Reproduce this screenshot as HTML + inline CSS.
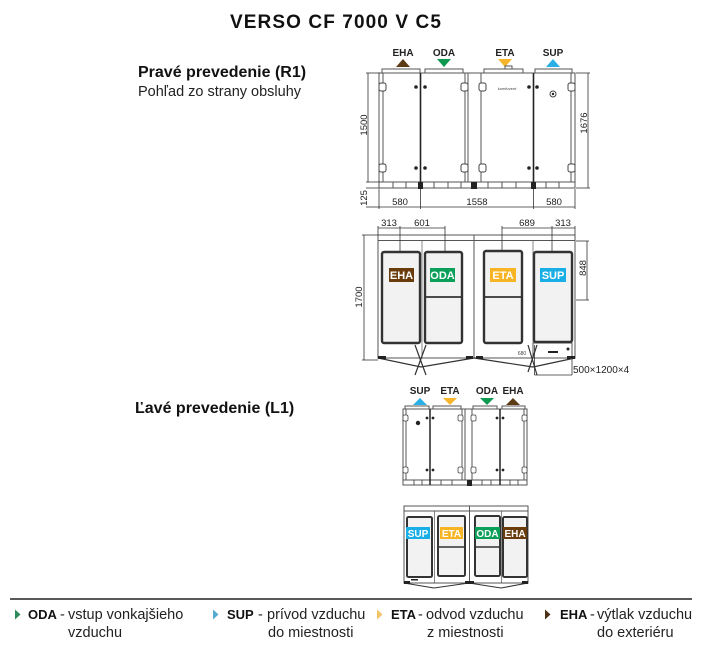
<!DOCTYPE html>
<html><head><meta charset="utf-8"><style>
html,body{margin:0;padding:0;background:#fff;}
svg{display:block;font-family:"Liberation Sans",Arial,sans-serif;}
</style></head><body>
<svg width="725" height="651" viewBox="0 0 725 651" xmlns="http://www.w3.org/2000/svg">
<rect width="725" height="651" fill="#fff"/>

<!-- Headings -->
<text x="230" y="28" font-size="19" font-weight="bold" letter-spacing="1.1" fill="#111">VERSO CF 7000 V C5</text>
<text x="138" y="77" font-size="16" font-weight="bold" fill="#111">Pravé prevedenie (R1)</text>
<text x="138" y="96" font-size="14.5" fill="#222">Pohľad zo strany obsluhy</text>
<text x="135" y="413" font-size="16" font-weight="bold" fill="#111">Ľavé prevedenie (L1)</text>

<!-- ============ TOP UNIT (R1 side view) ============ -->
<g font-size="10" font-weight="bold" fill="#222" text-anchor="middle">
  <text x="403" y="56">EHA</text>
  <text x="444" y="56">ODA</text>
  <text x="505" y="56">ETA</text>
  <text x="553" y="56">SUP</text>
</g>
<polygon points="396,67 410,67 403,59" fill="#5b3a14"/>
<polygon points="437,59 451,59 444,67" fill="#0d9a50"/>
<polygon points="498,59 512,59 505,67" fill="#f6b52a"/>
<polygon points="546,67 560,67 553,59" fill="#2aaee6"/>

<g stroke="#555" stroke-width="1" fill="#fff">
  <rect x="382" y="69" width="38" height="4"/>
  <rect x="425" y="69" width="38" height="4"/>
  <rect x="484" y="69" width="39" height="4"/>
  <rect x="505" y="66" width="7" height="3"/>
  <rect x="535" y="69" width="37" height="4"/>
  <rect x="379" y="73" width="196" height="109"/>
  <rect x="379" y="182" width="196" height="6"/>
</g>
<g stroke="#555" stroke-width="1">
  <line x1="383" y1="73" x2="383" y2="182"/>
  <line x1="571" y1="73" x2="571" y2="182"/>
  <line x1="465" y1="73" x2="465" y2="182"/>
  <line x1="468" y1="73" x2="468" y2="182"/>
  <line x1="481" y1="73" x2="481" y2="182"/>
  <line x1="393" y1="182" x2="393" y2="188"/>
  <line x1="406" y1="182" x2="406" y2="188"/>
  <line x1="434" y1="182" x2="434" y2="188"/>
  <line x1="448" y1="182" x2="448" y2="188"/>
  <line x1="461" y1="182" x2="461" y2="188"/>
  <line x1="488" y1="182" x2="488" y2="188"/>
  <line x1="502" y1="182" x2="502" y2="188"/>
  <line x1="516" y1="182" x2="516" y2="188"/>
  <line x1="546" y1="182" x2="546" y2="188"/>
  <line x1="559" y1="182" x2="559" y2="188"/>
</g>
<g stroke="#222" stroke-width="1.6">
  <line x1="420.5" y1="73" x2="420.5" y2="188"/>
  <line x1="533.5" y1="73" x2="533.5" y2="188"/>
</g>
<g fill="#222">
  <rect x="418" y="182" width="5" height="7"/>
  <rect x="471" y="182" width="6" height="7"/>
  <rect x="531" y="182" width="5" height="7"/>
</g>
<!-- hinges -->
<g stroke="#444" stroke-width="1" fill="#fff">
  <rect x="379" y="83" width="7" height="8" rx="2"/>
  <rect x="379" y="164" width="7" height="8" rx="2"/>
  <rect x="461" y="83" width="7" height="8" rx="2"/>
  <rect x="461" y="164" width="7" height="8" rx="2"/>
  <rect x="479" y="83" width="7" height="8" rx="2"/>
  <rect x="479" y="164" width="7" height="8" rx="2"/>
  <rect x="568" y="83" width="7" height="8" rx="2"/>
  <rect x="568" y="164" width="7" height="8" rx="2"/>
  <circle cx="553" cy="94" r="3"/>
</g>
<g fill="#222">
  <circle cx="416" cy="87" r="1.8"/><circle cx="425" cy="87" r="1.8"/>
  <circle cx="416" cy="168" r="1.8"/><circle cx="425" cy="168" r="1.8"/>
  <circle cx="529" cy="87" r="1.8"/><circle cx="537" cy="87" r="1.8"/>
  <circle cx="529" cy="168" r="1.8"/><circle cx="537" cy="168" r="1.8"/>
  <circle cx="553" cy="94" r="1.2"/>
</g>
<text x="507" y="90" font-size="4" fill="#444" text-anchor="middle">komfovent</text>

<!-- top unit dimensions -->
<g stroke="#333" stroke-width="0.8" fill="none">
  <line x1="368" y1="73" x2="368" y2="182"/>
  <line x1="366" y1="73" x2="380" y2="73"/>
  <line x1="366" y1="182" x2="380" y2="182"/>
  <line x1="366" y1="188" x2="380" y2="188"/>
  <line x1="366" y1="207" x2="380" y2="207"/>
  <line x1="588" y1="73" x2="588" y2="188"/>
  <line x1="576" y1="73" x2="590" y2="73"/>
  <line x1="576" y1="188" x2="590" y2="188"/>
  <line x1="379" y1="207" x2="575" y2="207"/>
  <line x1="379" y1="189" x2="379" y2="209"/>
  <line x1="420.5" y1="189" x2="420.5" y2="209"/>
  <line x1="533.5" y1="189" x2="533.5" y2="209"/>
  <line x1="575" y1="189" x2="575" y2="209"/>
</g>
<g font-size="9.5" fill="#222" text-anchor="middle">
  <text x="400" y="205">580</text>
  <text x="477" y="205">1558</text>
  <text x="554" y="205">580</text>
  <text transform="translate(367,125) rotate(-90)">1500</text>
  <text transform="translate(367,198) rotate(-90)">125</text>
  <text transform="translate(587,123) rotate(-90)">1676</text>
</g>

<!-- ============ MIDDLE UNIT (R1 front view) ============ -->
<g stroke="#555" stroke-width="1" fill="#fff">
  <rect x="378" y="235" width="197" height="123"/>
</g>
<g stroke="#555" stroke-width="1">
  <line x1="378" y1="240.5" x2="575" y2="240.5"/>
  <line x1="474" y1="235" x2="474" y2="358"/>
  <line x1="422" y1="240" x2="422" y2="358" stroke-width="0.7"/>
  <line x1="533" y1="240" x2="533" y2="358" stroke-width="0.7"/>
  <rect x="533" y="343" width="39" height="15" fill="none"/>
</g>
<g stroke="#333" stroke-width="2.4" fill="#f2f2f2">
  <rect x="382" y="252" width="38" height="91" rx="2"/>
  <rect x="425" y="252" width="37" height="91" rx="2"/>
  <rect x="484" y="251" width="38" height="92" rx="2"/>
  <rect x="534" y="252" width="38" height="90" rx="2"/>
  <line x1="425" y1="297" x2="462" y2="297" stroke-width="1.8"/>
  <line x1="484" y1="297" x2="522" y2="297" stroke-width="1.8"/>
</g>
<!-- bottom folds -->
<g stroke="#333" stroke-width="1.2" fill="none">
  <polyline points="378,358 421,367 474,358"/>
  <polyline points="474,358 533,367 575,358"/>
  <line x1="415" y1="345" x2="426" y2="375"/>
  <line x1="426" y1="345" x2="415" y2="375"/>
  <line x1="528" y1="345" x2="537" y2="375"/>
  <line x1="537" y1="345" x2="528" y2="372"/>
</g>
<g fill="#222">
  <rect x="378" y="356" width="8" height="3"/>
  <rect x="466" y="356" width="7" height="3"/>
  <rect x="476" y="356" width="7" height="3"/>
  <rect x="567" y="356" width="8" height="3"/>
  <rect x="548" y="351" width="10" height="2"/>
  <circle cx="568" cy="349" r="1.5"/>
</g>
<text x="522" y="355" font-size="5" fill="#444" text-anchor="middle">680</text>

<!-- middle labels -->
<rect x="389" y="268" width="25" height="14" fill="#6a3c0c"/>
<rect x="430" y="268" width="25" height="14" fill="#0aa05a"/>
<rect x="490" y="268" width="26" height="14" fill="#f7b525"/>
<rect x="540" y="268" width="26" height="14" fill="#19aee6"/>
<g font-size="11" font-weight="bold" fill="#fff" text-anchor="middle">
  <text x="401.5" y="279">EHA</text>
  <text x="442.5" y="279">ODA</text>
  <text x="503" y="279">ETA</text>
  <text x="553" y="279">SUP</text>
</g>

<!-- middle dims -->
<g stroke="#333" stroke-width="0.8" fill="none">
  <line x1="378" y1="228" x2="445" y2="228"/>
  <line x1="378" y1="226" x2="378" y2="235"/>
  <line x1="400" y1="226" x2="400" y2="251"/>
  <line x1="445" y1="226" x2="445" y2="251"/>
  <line x1="502" y1="228" x2="575" y2="228"/>
  <line x1="502" y1="226" x2="502" y2="251"/>
  <line x1="552" y1="226" x2="552" y2="251"/>
  <line x1="575" y1="226" x2="575" y2="235"/>
  <line x1="364" y1="235" x2="364" y2="360"/>
  <line x1="362" y1="235" x2="378" y2="235"/>
  <line x1="362" y1="360" x2="378" y2="360"/>
  <line x1="587" y1="241" x2="587" y2="300"/>
  <line x1="576" y1="241" x2="589" y2="241"/>
  <line x1="576" y1="300" x2="589" y2="300"/>
  <line x1="534.5" y1="345" x2="534.5" y2="375"/>
  <line x1="534.5" y1="375" x2="572" y2="375"/>
  <line x1="572" y1="358" x2="572" y2="375"/>
</g>
<g font-size="9.5" fill="#222" text-anchor="middle">
  <text x="389" y="226">313</text>
  <text x="422" y="226">601</text>
  <text x="527" y="226">689</text>
  <text x="563" y="226">313</text>
  <text transform="translate(362,297) rotate(-90)">1700</text>
  <text transform="translate(586,268) rotate(-90)">848</text>
</g>
<text x="573" y="373" font-size="10" fill="#222">500×1200×4</text>

<!-- ============ L1 TOP VIEW ============ -->
<g font-size="10" font-weight="bold" fill="#222" text-anchor="middle">
  <text x="420" y="394">SUP</text>
  <text x="450" y="394">ETA</text>
  <text x="487" y="394">ODA</text>
  <text x="513" y="394">EHA</text>
</g>
<polygon points="413,405 427,405 420,398" fill="#2aaee6"/>
<polygon points="443,398 457,398 450,405" fill="#f6b52a"/>
<polygon points="480,398 494,398 487,405" fill="#0d9a50"/>
<polygon points="506,405 520,405 513,398" fill="#5b3a14"/>

<g stroke="#555" stroke-width="1" fill="#fff">
  <rect x="405" y="406" width="24" height="3"/>
  <rect x="433" y="406" width="28" height="3"/>
  <rect x="473" y="406" width="24" height="3"/>
  <rect x="502" y="406" width="23" height="3"/>
  <rect x="403" y="409" width="124" height="71"/>
  <rect x="403" y="480" width="124" height="5"/>
</g>
<g stroke="#555" stroke-width="1">
  <line x1="406" y1="409" x2="406" y2="480"/>
  <line x1="524" y1="409" x2="524" y2="480"/>
  <line x1="462" y1="409" x2="462" y2="480"/>
  <line x1="465" y1="409" x2="465" y2="480"/>
  <line x1="472" y1="409" x2="472" y2="480"/>
  <line x1="414" y1="480" x2="414" y2="485"/>
  <line x1="422" y1="480" x2="422" y2="485"/>
  <line x1="441" y1="480" x2="441" y2="485"/>
  <line x1="452" y1="480" x2="452" y2="485"/>
  <line x1="482" y1="480" x2="482" y2="485"/>
  <line x1="491" y1="480" x2="491" y2="485"/>
  <line x1="510" y1="480" x2="510" y2="485"/>
  <line x1="518" y1="480" x2="518" y2="485"/>
</g>
<g stroke="#222" stroke-width="1.5">
  <line x1="430" y1="409" x2="430" y2="485"/>
  <line x1="500" y1="409" x2="500" y2="485"/>
</g>
<g stroke="#444" stroke-width="0.8" fill="#fff">
  <rect x="403" y="415" width="5" height="6" rx="1.5"/>
  <rect x="403" y="467" width="5" height="6" rx="1.5"/>
  <rect x="458" y="415" width="5" height="6" rx="1.5"/>
  <rect x="458" y="467" width="5" height="6" rx="1.5"/>
  <rect x="471" y="415" width="5" height="6" rx="1.5"/>
  <rect x="471" y="467" width="5" height="6" rx="1.5"/>
  <rect x="522" y="415" width="5" height="6" rx="1.5"/>
  <rect x="522" y="467" width="5" height="6" rx="1.5"/>
</g>
<g fill="#222">
  <circle cx="418" cy="423" r="2.2"/>
  <circle cx="427" cy="418" r="1.4"/><circle cx="433" cy="418" r="1.4"/>
  <circle cx="427" cy="470" r="1.4"/><circle cx="433" cy="470" r="1.4"/>
  <circle cx="497" cy="418" r="1.4"/><circle cx="503" cy="418" r="1.4"/>
  <circle cx="497" cy="470" r="1.4"/><circle cx="503" cy="470" r="1.4"/>
  <rect x="467" y="480" width="5" height="6"/>
</g>

<!-- ============ L1 FRONT VIEW ============ -->
<g stroke="#555" stroke-width="1" fill="#fff">
  <rect x="404" y="506" width="124" height="77"/>
</g>
<g stroke="#555" stroke-width="1">
  <line x1="404" y1="511" x2="528" y2="511"/>
  <line x1="469.5" y1="506" x2="469.5" y2="583"/>
  <line x1="434.5" y1="511" x2="434.5" y2="583" stroke-width="0.7"/>
  <line x1="501.5" y1="511" x2="501.5" y2="583" stroke-width="0.7"/>
</g>
<g stroke="#333" stroke-width="2" fill="#f2f2f2">
  <rect x="407" y="517" width="25" height="60" rx="1.5"/>
  <rect x="438" y="516" width="27" height="60" rx="1.5"/>
  <rect x="475" y="516" width="25" height="60" rx="1.5"/>
  <rect x="503" y="517" width="24" height="60" rx="1.5"/>
  <line x1="438" y1="547" x2="465" y2="547" stroke-width="1.6"/>
  <line x1="475" y1="547" x2="500" y2="547" stroke-width="1.6"/>
</g>
<g stroke="#333" stroke-width="1.1" fill="none">
  <polyline points="404,583 434,588 469,583"/>
  <polyline points="469,583 501,588 528,583"/>
</g>
<g fill="#222">
  <rect x="404" y="581" width="6" height="3"/>
  <rect x="465" y="581" width="9" height="3"/>
  <rect x="522" y="581" width="6" height="3"/>
  <rect x="411" y="579" width="7" height="1.5"/>
</g>
<rect x="406" y="527" width="24" height="12" fill="#19aee6"/>
<rect x="440" y="527" width="23" height="12" fill="#f7b525"/>
<rect x="475" y="527" width="25" height="12" fill="#0aa05a"/>
<rect x="503" y="527" width="24" height="12" fill="#6a3c0c"/>
<g font-size="10" font-weight="bold" fill="#fff" text-anchor="middle">
  <text x="418" y="537">SUP</text>
  <text x="451.5" y="537">ETA</text>
  <text x="487.5" y="537">ODA</text>
  <text x="515" y="537">EHA</text>
</g>

<!-- ============ LEGEND ============ -->
<line x1="10" y1="599" x2="692" y2="599" stroke="#222" stroke-width="1.5"/>
<polygon points="15,609.5 20.5,614.5 15,619.5" fill="#2f8a5a"/>
<polygon points="213,609.5 218.5,614.5 213,619.5" fill="#55aad0"/>
<polygon points="377,609.5 382.5,614.5 377,619.5" fill="#f2c46a"/>
<polygon points="545,609.5 550.5,614.5 545,619.5" fill="#4d3315"/>
<g font-size="13" font-weight="bold" fill="#111">
  <text x="28" y="619">ODA</text>
  <text x="227" y="619">SUP</text>
  <text x="391" y="619">ETA</text>
  <text x="560" y="619">EHA</text>
</g>
<g font-size="14.5" fill="#222">
  <text x="60" y="619">-</text>
  <text x="68" y="619">vstup vonkajšieho</text>
  <text x="68" y="637">vzduchu</text>
  <text x="258" y="619">-</text>
  <text x="267" y="619">prívod vzduchu</text>
  <text x="268" y="637">do miestnosti</text>
  <text x="418" y="619">-</text>
  <text x="426" y="619">odvod vzduchu</text>
  <text x="427" y="637">z miestnosti</text>
  <text x="590" y="619">-</text>
  <text x="597" y="619">výtlak vzduchu</text>
  <text x="597" y="637">do exteriéru</text>
</g>
</svg>
</body></html>
